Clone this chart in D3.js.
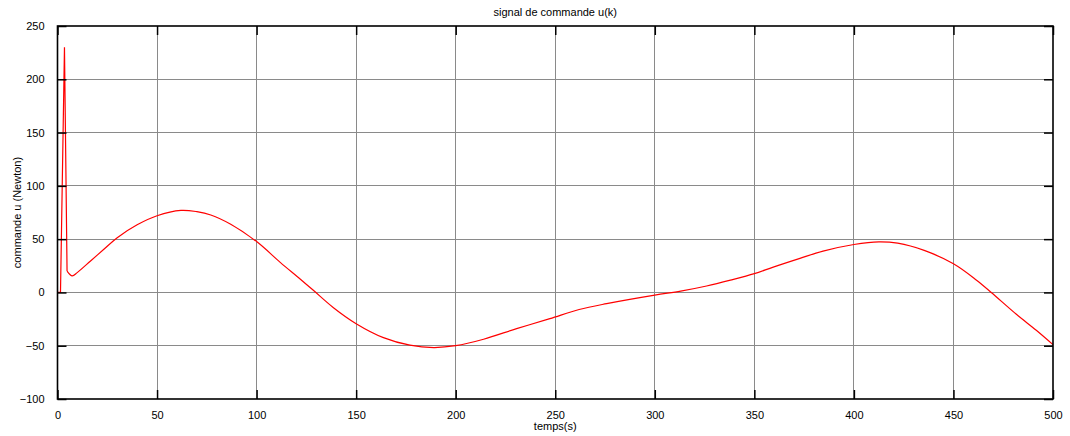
<!DOCTYPE html>
<html>
<head>
<meta charset="utf-8">
<script src="https://cdn.jsdelivr.net/npm/d3@7"></script>
<style>
  body { margin: 0; background: #fff; }
  svg { display: block; font-family: "Liberation Sans", Arial, sans-serif; }
  .grid line { stroke: #8a8a8a; stroke-width: 1; shape-rendering: crispEdges; }
  .tick-lbl { font-size: 11px; fill: #000; }
</style>
</head>
<body>
<div id="chart"></div>
<script>
var temps = [0, 1.5, 3.5, 4.8, 7.4, 9.9, 16.6, 23.3, 30, 40, 50, 62, 70, 77, 87, 100, 112, 122, 128.5,
  138.6, 150, 163.7, 177, 189, 200, 214, 230.6, 247.3, 262, 275.8, 300, 313, 326, 338, 350, 359.5,
  372.9, 384.5, 400, 412.6, 422, 435.3, 450, 461.6, 469, 481.6, 491.6, 500];
var commande = [0, 0, 230, 20, 15.5, 18.6, 29.5, 40.5, 51.4, 63.5, 72, 77, 75.8, 72.7, 64, 47.7, 28, 12.4, 2,
  -14.3, -29.3, -42.4, -49.5, -51.7, -50, -43.9, -34, -24.6, -16, -10.5, -2.5, 1.2, 6, 11.5, 17.6, 23.8,
  32, 38.8, 45, 47.5, 46.2, 39.4, 26.9, 11.5, 0, -20.5, -35.5, -49];

var xTicks = [0, 50, 100, 150, 200, 250, 300, 350, 400, 450, 500];
var yTicks = [-100, -50, 0, 50, 100, 150, 200, 250];

var width = 1070, height = 436;
var margin = {left: 57.5, right: 17, top: 26, bottom: 37};
var pw = width - margin.left - margin.right,
    ph = height - margin.top - margin.bottom;

var svg = d3.select("#chart").append("svg")
  .attr("width", width)
  .attr("height", height);

var x = d3.scaleLinear().domain([0, 500]).range([0, pw]);
var y = d3.scaleLinear().domain([-100, 250]).range([ph, 0]);

var g = svg.append("g")
  .attr("transform", "translate(" + margin.left + "," + margin.top + ")");

// grid
var grid = g.append("g").attr("class", "grid");
grid.selectAll(".vx").data(xTicks.slice(1, -1)).enter().append("line")
  .attr("x1", x).attr("x2", x).attr("y1", 0).attr("y2", ph);
grid.selectAll(".hy").data(yTicks.slice(1, -1)).enter().append("line")
  .attr("y1", y).attr("y2", y).attr("x1", 0).attr("x2", pw);

// curve: straight segments for the start-up spike, smooth after it
var pts = temps.map(function(t, i) { return [t, commande[i]]; });
var split = 3;

var lineStraight = d3.line()
  .x(function(d) { return x(d[0]); })
  .y(function(d) { return y(d[1]); });
var lineSmooth = d3.line()
  .x(function(d) { return x(d[0]); })
  .y(function(d) { return y(d[1]); })
  .curve(d3.curveCatmullRom.alpha(0.5));

g.append("path")
  .attr("fill", "none")
  .attr("stroke", "#ff0000")
  .attr("stroke-width", 1.2)
  .attr("d", lineStraight(pts.slice(0, split + 1)));
g.append("path")
  .attr("fill", "none")
  .attr("stroke", "#ff0000")
  .attr("stroke-width", 1.2)
  .attr("d", lineSmooth(pts.slice(split)));

// axes, ticks inside on all four sides
var tl = 9;
g.append("g").call(d3.axisBottom(x).tickValues(xTicks).tickSize(-tl).tickPadding(tl + 3))
  .attr("transform", "translate(0," + ph + ")");
g.append("g").call(d3.axisTop(x).tickValues(xTicks).tickSize(-tl).tickFormat(""));
g.append("g").call(d3.axisLeft(y).tickValues(yTicks).tickSize(-tl).tickPadding(tl + 4));
g.append("g").call(d3.axisRight(y).tickValues(yTicks).tickSize(-tl).tickFormat(""))
  .attr("transform", "translate(" + pw + ",0)");

g.selectAll(".domain").remove();
g.selectAll(".tick line").attr("stroke", "#000").attr("stroke-width", 1.5);
g.selectAll(".tick text").attr("class", "tick-lbl").style("font-family", "Liberation Sans, Arial, sans-serif");

g.append("rect")
  .attr("width", pw).attr("height", ph)
  .attr("fill", "none")
  .attr("stroke", "#000")
  .attr("stroke-width", 1.6);

// labels
svg.append("text")
  .attr("x", margin.left + pw / 2).attr("y", 16)
  .attr("text-anchor", "middle")
  .style("font-size", "11px")
  .text("signal de commande u(k)");

svg.append("text")
  .attr("x", margin.left + pw / 2).attr("y", 430)
  .attr("text-anchor", "middle")
  .style("font-size", "11px")
  .text("temps(s)");

svg.append("text")
  .attr("transform", "translate(21," + (margin.top + ph / 2) + ") rotate(-90)")
  .attr("text-anchor", "middle")
  .style("font-size", "11px")
  .text("commande u (Newton)");
</script>
</body>
</html>
